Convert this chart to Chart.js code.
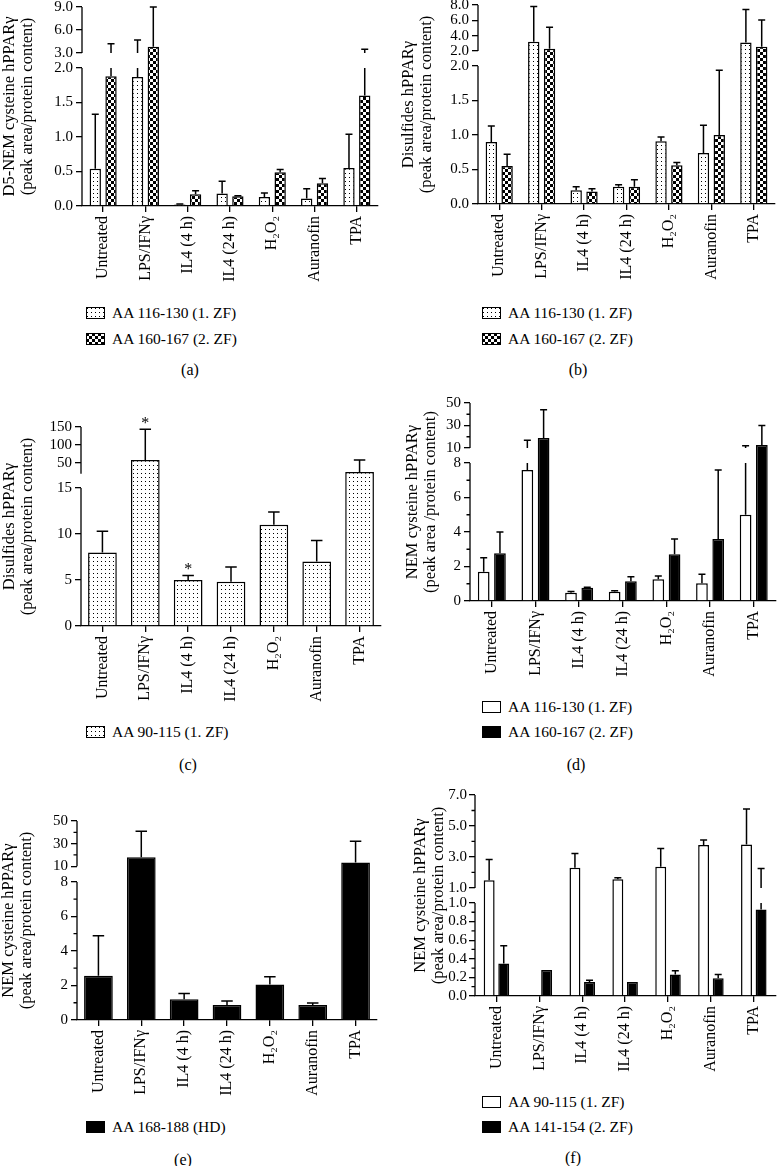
<!DOCTYPE html>
<html lang="en">
<head>
<meta charset="UTF-8">
<title>hPPARγ cysteine modifications</title>
<script src="https://cdn.jsdelivr.net/npm/chart.js"></script>
<style>
  body { margin: 0; background: #fff; }
  #figure { position: relative; width: 777px; height: 1166px; overflow: hidden; background: #fff;
            font-family: 'Liberation Serif', 'Times New Roman', serif; color: #000; }
  #figure canvas.plot { position: absolute; }
  .legend-item { position: absolute; height: 20px; display: flex; align-items: center; font-size: 15.5px; white-space: nowrap; }
  .legend-item canvas { margin-right: 7px; }
  .caption { position: absolute; width: 60px; text-align: center; font-size: 16px; line-height: 20px; }
</style>
</head>
<body>
<div id="figure"></div>
<script>
const categories = ['Untreated', 'LPS/IFNγ', 'IL4 (4 h)', 'IL4 (24 h)', 'H₂O₂', 'Auranofin', 'TPA'];

// (a) D5-NEM cysteine
const aTitle = ['D5-NEM cysteine hPPARγ', '(peak area/protein content)'];
const aLegend = ['AA 116-130 (1. ZF)', 'AA 160-167 (2. ZF)'];
const aZf1 = [0.54, 1.87, 0.02, 0.18, 0.13, 0.11, 0.55];
const aZf1Err = [1.33, 4.7, 0.03, 0.36, 0.19, 0.25, 1.04];
const aZf2 = [1.88, 3.8, 0.17, 0.14, 0.49, 0.33, 1.6];
const aZf2Err = [4.2, 9.0, 0.22, 0.15, 0.53, 0.40, 3.5];
const aTickValues = [[0, 0.5, 1, 1.5, 2], [3, 6, 9]];
const aTickLabels = [['0.0', '0.5', '1.0', '1.5', '2.0'], ['3.0', '6.0', '9.0']];

// (b) disulfides, two zinc fingers
const bTitle = ['Disulfides hPPARγ', '(peak area/protein content)'];
const bLegend = ['AA 116-130 (1. ZF)', 'AA 160-167 (2. ZF)'];
const bZf1 = [0.90, 3.2, 0.20, 0.25, 0.91, 0.74, 3.1];
const bZf1Err = [1.13, 7.8, 0.25, 0.28, 0.97, 1.14, 7.4];
const bZf2 = [0.55, 2.3, 0.18, 0.25, 0.56, 1.0, 2.55];
const bZf2Err = [0.72, 5.1, 0.22, 0.35, 0.60, 1.94, 6.05];
const bTickValues = [[0, 0.5, 1, 1.5, 2], [2, 4, 6, 8]];
const bTickLabels = [['0.0', '0.5', '1.0', '1.5', '2.0'], ['2.0', '4.0', '6.0', '8.0']];

// (c) disulfides AA 90-115
const cTitle = ['Disulfides hPPARγ', '(peak area/protein content)'];
const cLegend = ['AA 90-115 (1. ZF)'];
const cZf1 = [8.0, 58, 5.0, 4.8, 11.0, 7.0, 25];
const cZf1Err = [10.3, 144, 5.5, 6.4, 12.4, 9.3, 58];
const cSignif = ['', '*', '*', '', '', '', ''];
const cTickValues = [[0, 5, 10, 15], [50, 100, 150]];
const cTickLabels = [['0', '5', '10', '15'], ['50', '100', '150']];

// (d) NEM cysteine, two zinc fingers
const dTitle = ['NEM cysteine hPPARγ', '(peak area /protein content)'];
const dLegend = ['AA 116-130 (1. ZF)', 'AA 160-167 (2. ZF)'];
const dZf1 = [1.7, 7.6, 0.48, 0.54, 1.26, 1.03, 5.0];
const dZf1Err = [2.5, 17, 0.55, 0.6, 1.45, 1.55, 12];
const dZf2 = [2.77, 19, 0.77, 1.14, 2.71, 3.6, 12.7];
const dZf2Err = [4.0, 44, 0.8, 1.41, 3.59, 7.6, 30];
const dTickValues = [[0, 2, 4, 6, 8], [10, 30, 50]];
const dTickLabels = [['0', '2', '4', '6', '8'], ['10', '30', '50']];
const dMinorTicks = [[1, 3, 5, 7], [20, 40]];

// (e) NEM cysteine, hinge domain
const eTitle = ['NEM cysteine hPPARγ', '(peak area/protein content)'];
const eLegend = ['AA 168-188 (HD)'];
const eHd = [2.56, 18, 1.2, 0.87, 2.05, 0.87, 13.3];
const eHdErr = [4.88, 41, 1.53, 1.1, 2.5, 0.99, 32];
const eTickValues = [[0, 2, 4, 6, 8], [10, 30, 50]];
const eTickLabels = [['0', '2', '4', '6', '8'], ['10', '30', '50']];
const eMinorTicks = [[1, 3, 5, 7], [20, 40]];

// (f) NEM cysteine, AA 90-115 / 141-154
const fTitle = ['NEM cysteine hPPARγ', '(peak area/protein content)'];
const fLegend = ['AA 90-115 (1. ZF)', 'AA 141-154 (2. ZF)'];
const fZf1 = [1.5, null, 2.3, 1.56, 2.36, 3.77, 3.81];
const fZf1Err = [2.84, null, 3.22, 1.65, 3.55, 4.1, 6.1];
const fZf2 = [0.35, 0.28, 0.15, 0.15, 0.23, 0.19, 0.93];
const fZf2Err = [0.54, null, 0.17, null, 0.27, 0.23, 2.26];
const fTickValues = [[0, 0.2, 0.4, 0.6, 0.8, 1.0], [1, 3, 5, 7]];
const fTickLabels = [['0.0', '0.2', '0.4', '0.6', '0.8', '1.0'], ['1.0', '3.0', '5.0', '7.0']];
const fMinorTicks = [[0.1, 0.3, 0.5, 0.7, 0.9], [2, 4, 6]];

const FONT = "'Liberation Serif', 'Times New Roman', serif";
const X_AXIS_H = 95;
Chart.defaults.font.family = FONT;
Chart.defaults.color = '#000';

// fill patterns for the bars
function makeTile(kind) {
    const c = document.createElement('canvas');
    const g = c.getContext('2d');
    if (kind === 'dots') {
        c.width = 4; c.height = 4;
        g.fillStyle = '#fff'; g.fillRect(0, 0, 4, 4);
        g.fillStyle = '#000'; g.fillRect(1, 1, 1, 1);
    } else {
        c.width = 6; c.height = 6;
        g.fillStyle = '#fff'; g.fillRect(0, 0, 6, 6);
        g.fillStyle = '#000'; g.fillRect(0, 0, 3, 3); g.fillRect(3, 3, 3, 3);
    }
    return c;
}
const patternCtx = document.createElement('canvas').getContext('2d');
function fillStyle(kind) {
    if (kind === 'white') return '#fff';
    if (kind === 'black') return '#000';
    return patternCtx.createPattern(makeTile(kind), 'repeat');
}

// linear scale with a broken (segmented) range
class BrokenScale extends Chart.LinearScale {
    segFrac(i, v) {
        const s = this.chart.canvas.$segs[i];
        return s.lo + (v - s.min) / (s.max - s.min) * (s.hi - s.lo);
    }
    segPixel(i, v) {
        return this.getPixelForDecimal(this.segFrac(i, v));
    }
    getPixelForValue(v) {
        const segs = this.chart.canvas.$segs;
        for (let i = 0; i < segs.length; i++) {
            const s = segs[i];
            if (v <= s.max || i === segs.length - 1) {
                if (v >= s.min || i === 0) return this.segPixel(i, v);
                const p = segs[i - 1];
                const f = p.hi + (v - p.max) / (s.min - p.max) * (s.lo - p.hi);
                return this.getPixelForDecimal(f);
            }
        }
    }
    getValueForPixel(px) {
        const segs = this.chart.canvas.$segs;
        const f = this.getDecimalForPixel(px);
        for (const s of segs) {
            if (f <= s.hi) return s.min + (f - s.lo) / (s.hi - s.lo) * (s.max - s.min);
        }
        return segs[segs.length - 1].max;
    }
    getPixelForTick(index) {
        const t = this.ticks[index];
        return t ? this.segPixel(t.seg, t.value) : null;
    }
}
BrokenScale.id = 'broken';
BrokenScale.defaults = {};
Chart.register(BrokenScale);

// error bars, significance marks, broken y axis line and minor ticks
const brokenAxisPlugin = {
    id: 'brokenAxis',
    afterDatasetsDraw(chart) {
        const ctx = chart.ctx, y = chart.scales.y, segs = chart.canvas.$segs;
        ctx.save();
        ctx.strokeStyle = '#000';
        ctx.fillStyle = '#000';
        ctx.lineWidth = 1.5;
        chart.data.datasets.forEach((ds, di) => {
            const meta = chart.getDatasetMeta(di);
            meta.data.forEach((bar, i) => {
                const v = ds.data[i];
                const e = ds.errors ? ds.errors[i] : null;
                if (v == null) return;
                if (e != null && e > v) {
                    ctx.beginPath();
                    segs.forEach((s, si) => {
                        if (e <= s.min || v >= s.max) return;
                        ctx.moveTo(bar.x, y.segPixel(si, Math.max(v, s.min)));
                        ctx.lineTo(bar.x, y.segPixel(si, Math.min(e, s.max)));
                    });
                    const yc = y.getPixelForValue(e);
                    const half = Math.max(3.5, bar.width * 0.2);
                    ctx.moveTo(bar.x - half, yc);
                    ctx.lineTo(bar.x + half, yc);
                    ctx.stroke();
                }
                if (ds.marks && ds.marks[i]) {
                    const top = y.getPixelForValue(e != null ? Math.max(e, v) : v);
                    ctx.font = '16px ' + FONT;
                    ctx.textAlign = 'center';
                    ctx.textBaseline = 'alphabetic';
                    ctx.fillText(ds.marks[i], bar.x, top - 1);
                }
            });
        });
        ctx.restore();
    },
    afterDraw(chart) {
        const ctx = chart.ctx, y = chart.scales.y, segs = chart.canvas.$segs;
        const left = chart.chartArea.left;
        ctx.save();
        ctx.strokeStyle = '#000';
        ctx.lineWidth = 1.3;
        ctx.beginPath();
        segs.forEach((s, si) => {
            ctx.moveTo(left, y.segPixel(si, s.min));
            ctx.lineTo(left, y.segPixel(si, s.max));
        });
        chart.canvas.$minor.forEach((vals, si) => {
            vals.forEach(v => {
                const yy = y.segPixel(si, v);
                ctx.moveTo(left - 3.5, yy);
                ctx.lineTo(left, yy);
            });
        });
        ctx.stroke();
        ctx.restore();
    }
};

const seg = (min, max, lo, hi) => ({ min, max, lo, hi });

const panels = [
    {
        caption: '(a)', title: aTitle, ticks: aTickValues, tickLabels: aTickLabels, minor: [],
        box: { x: 0, y: -20, w: 388 }, area: { left: 82, top: 7, right: 378, bottom: 206 }, titleX: 10,
        segs: [seg(0, 2, 0, 0.6935), seg(3, 9, 0.769, 1)], cp: 0.745, bp: 0.72,
        series: [
            { label: aLegend[0], data: aZf1, errors: aZf1Err, fill: 'dots' },
            { label: aLegend[1], data: aZf2, errors: aZf2Err, fill: 'check' }
        ],
        legend: { x: 86, ys: [313, 339] }, capPos: { x: 190, y: 370 }
    },
    {
        caption: '(b)', title: bTitle, ticks: bTickValues, tickLabels: bTickLabels, minor: [],
        box: { x: 388, y: -20, w: 389 }, area: { left: 478, top: 5, right: 777, bottom: 204 }, titleX: 409,
        segs: [seg(0, 2, 0, 0.6935), seg(2, 8, 0.769, 1)], cp: 0.745, bp: 0.72,
        series: [
            { label: bLegend[0], data: bZf1, errors: bZf1Err, fill: 'dots' },
            { label: bLegend[1], data: bZf2, errors: bZf2Err, fill: 'check' }
        ],
        legend: { x: 482, ys: [313, 339] }, capPos: { x: 578, y: 370 }
    },
    {
        caption: '(c)', title: cTitle, ticks: cTickValues, tickLabels: cTickLabels, minor: [],
        box: { x: 0, y: 380, w: 388 }, area: { left: 81, top: 427, right: 381, bottom: 626 }, titleX: 10,
        segs: [seg(0, 15, 0, 0.6935), seg(20, 150, 0.765, 1)], cp: 1, bp: 0.67,
        series: [
            { label: cLegend[0], data: cZf1, errors: cZf1Err, marks: cSignif, fill: 'dots' }
        ],
        legend: { x: 86, ys: [732] }, capPos: { x: 188, y: 765 }
    },
    {
        caption: '(d)', title: dTitle, ticks: dTickValues, tickLabels: dTickLabels, minor: dMinorTicks,
        box: { x: 388, y: 380, w: 389 }, area: { left: 470, top: 403, right: 776, bottom: 601 }, titleX: 413,
        segs: [seg(0, 8, 0, 0.697), seg(10, 50, 0.7727, 1)], cp: 0.745, bp: 0.72,
        series: [
            { label: dLegend[0], data: dZf1, errors: dZf1Err, fill: 'white' },
            { label: dLegend[1], data: dZf2, errors: dZf2Err, fill: 'black' }
        ],
        legend: { x: 482, ys: [707, 732] }, capPos: { x: 576, y: 765 }
    },
    {
        caption: '(e)', title: eTitle, ticks: eTickValues, tickLabels: eTickLabels, minor: eMinorTicks,
        box: { x: 0, y: 770, w: 388 }, area: { left: 77, top: 821, right: 377, bottom: 1019.5 }, titleX: 9,
        segs: [seg(0, 8, 0, 0.694), seg(10, 50, 0.773, 1)], cp: 1, bp: 0.67,
        series: [
            { label: eLegend[0], data: eHd, errors: eHdErr, fill: 'black' }
        ],
        legend: { x: 86, ys: [1127] }, capPos: { x: 183, y: 1160 }
    },
    {
        caption: '(f)', title: fTitle, ticks: fTickValues, tickLabels: fTickLabels, minor: fMinorTicks,
        box: { x: 388, y: 770, w: 389 }, area: { left: 475, top: 795, right: 777, bottom: 995.5 }, titleX: 421,
        segs: [seg(0, 1, 0, 0.463), seg(1, 7, 0.5377, 1)], cp: 0.68, bp: 0.75, tickPad: 2,
        series: [
            { label: fLegend[0], data: fZf1, errors: fZf1Err, fill: 'white' },
            { label: fLegend[1], data: fZf2, errors: fZf2Err, fill: 'black' }
        ],
        legend: { x: 482, ys: [1102, 1127] }, capPos: { x: 573, y: 1158 }
    }
];

const fig = document.getElementById('figure');

function buildPanel(p) {
    const cv = document.createElement('canvas');
    const h = Math.round(p.area.bottom - p.box.y) + X_AXIS_H;
    cv.width = p.box.w;
    cv.height = h;
    cv.className = 'plot';
    cv.style.left = p.box.x + 'px';
    cv.style.top = p.box.y + 'px';
    cv.$segs = p.segs;
    cv.$minor = p.minor;
    fig.appendChild(cv);

    const datasets = p.series.map(s => ({
        label: s.label,
        data: s.data,
        errors: s.errors,
        marks: s.marks,
        backgroundColor: fillStyle(s.fill),
        borderColor: '#000',
        borderWidth: 1.5,
        categoryPercentage: p.cp,
        barPercentage: p.bp
    }));

    new Chart(cv, {
        type: 'bar',
        data: { labels: categories, datasets },
        options: {
            responsive: false,
            animation: false,
            events: [],
            devicePixelRatio: 1,
            layout: {
                padding: { top: p.area.top - p.box.y, right: p.box.x + p.box.w - p.area.right, left: 0, bottom: 0 }
            },
            plugins: { legend: { display: false }, tooltip: { enabled: false } },
            scales: {
                x: {
                    type: 'category',
                    offset: true,
                    grid: { display: true, drawOnChartArea: false, offset: false, color: '#000', lineWidth: 1.3, tickLength: 6 },
                    border: { display: true, color: '#000', width: 1.3 },
                    ticks: { minRotation: 90, maxRotation: 90, autoSkip: false, padding: 4, color: '#000',
                             font: { family: FONT, size: 16 } },
                    afterFit: sc => { sc.height = X_AXIS_H; }
                },
                y: {
                    type: 'broken',
                    min: 0,
                    max: p.segs[p.segs.length - 1].max,
                    grid: { display: true, drawOnChartArea: false, color: '#000', lineWidth: 1.3, tickLength: 6 },
                    border: { display: false },
                    ticks: { autoSkip: false, padding: p.tickPad || 3, color: '#000', font: { family: FONT, size: 15 },
                             callback: (v, i, ticks) => ticks[i].text },
                    title: {
                        display: true, text: p.title, color: '#000',
                        font: { family: FONT, size: 16.5, lineHeight: 18 / 16.5 },
                        padding: { top: Math.max(0, p.titleX - p.box.x - 9), bottom: 0 }
                    },
                    afterBuildTicks: sc => {
                        const list = [];
                        p.ticks.forEach((vals, si) => vals.forEach((v, k) => {
                            list.push({ value: v, seg: si, text: p.tickLabels[si][k] });
                        }));
                        sc.ticks = list;
                    },
                    afterFit: sc => { sc.width = p.area.left - p.box.x; }
                }
            }
        },
        plugins: [brokenAxisPlugin]
    });
}

function buildLegend(p) {
    p.series.forEach((s, k) => {
        const item = document.createElement('div');
        item.className = 'legend-item';
        item.style.left = p.legend.x + 'px';
        item.style.top = (p.legend.ys[k] - 10) + 'px';
        const sw = document.createElement('canvas');
        sw.width = 19;
        sw.height = 12;
        const g = sw.getContext('2d');
        g.fillStyle = fillStyle(s.fill);
        g.fillRect(0, 0, 19, 12);
        g.strokeStyle = '#000';
        g.lineWidth = 1;
        g.strokeRect(0.5, 0.5, 18, 11);
        item.appendChild(sw);
        const t = document.createElement('span');
        t.textContent = s.label;
        item.appendChild(t);
        fig.appendChild(item);
    });
    const cap = document.createElement('div');
    cap.className = 'caption';
    cap.textContent = p.caption;
    cap.style.left = (p.capPos.x - 30) + 'px';
    cap.style.top = (p.capPos.y - 10) + 'px';
    fig.appendChild(cap);
}

panels.forEach(p => { buildPanel(p); buildLegend(p); });
</script>
</body>
</html>
